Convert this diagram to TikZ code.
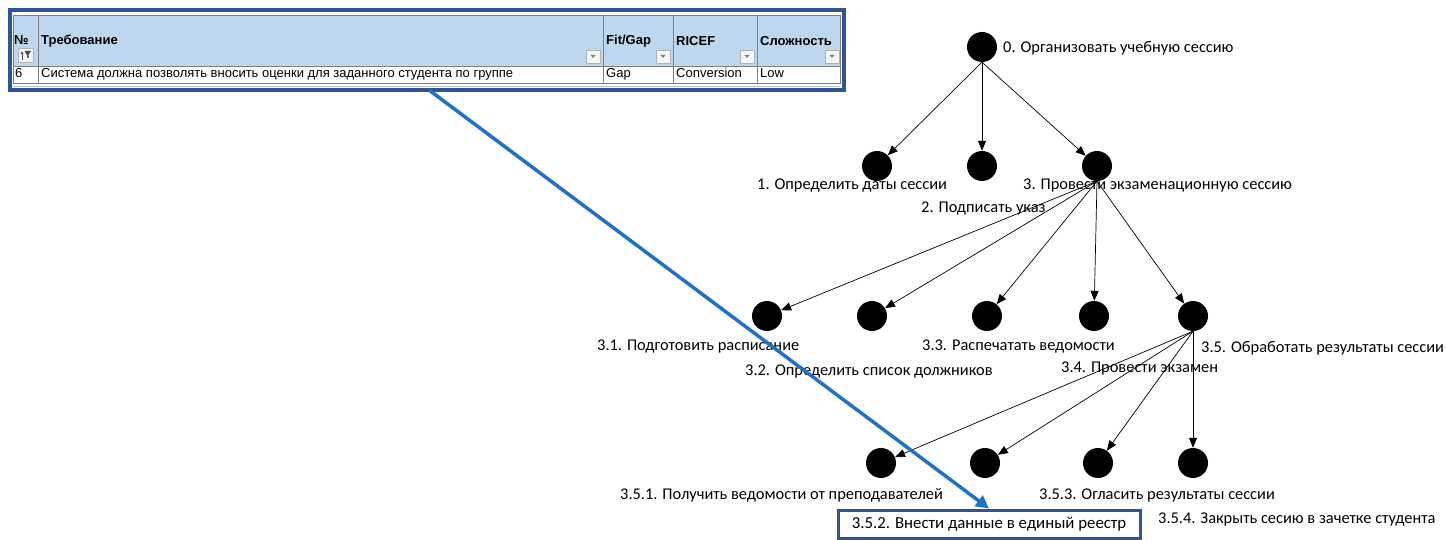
\documentclass[tikz,border=0pt]{standalone}
\usepackage{fontspec}
\setmainfont{Carlito}
\newfontfamily\tblfont{Liberation Sans}
\usetikzlibrary{arrows.meta}
\definecolor{frameblue}{HTML}{2F5597}
\definecolor{linkblue}{HTML}{1F72C4}
\definecolor{headfill}{HTML}{BDD7EE}
\definecolor{gridgray}{HTML}{7F7F7F}
\begin{document}
\begin{tikzpicture}[x=1pt,y=-1pt,
  dot/.style={circle,fill=black,minimum size=30pt,inner sep=0pt},
  lbl/.style={anchor=mid west,inner sep=0pt,font=\fontsize{16.4}{19}\selectfont},
  tree/.style={draw=black,line width=0.7pt,-{Triangle[length=10pt,width=8pt]}},
  hdr/.style={anchor=west,inner sep=0pt,font=\tblfont\bfseries\fontsize{13}{15}\selectfont},
  cell/.style={anchor=mid west,inner sep=0pt,font=\tblfont\fontsize{13}{15}\selectfont},
  ddbtn/.style={draw=gridgray!60,fill=gray!8,line width=0.4pt},
  link/.style={draw=linkblue,line width=3.5pt,-{Triangle[length=13pt,width=13pt]}},
  hilite/.style={draw=frameblue,line width=3pt,rectangle,inner sep=0pt,
    minimum width=302pt,minimum height=28pt,font=\fontsize{16.8}{19}\selectfont}]
\useasboundingbox (0,0) rectangle (1446,540);

% ---- requirements table ----
\fill[headfill] (13,15) rectangle (840,66);
\draw[gridgray,line width=0.6pt] (13,15) rectangle (840,83);
\draw[gridgray,line width=0.6pt] (13,66) -- (840,66);
\foreach \cx in {38,603,673,757} \draw[gridgray,line width=0.6pt] (\cx,15) -- (\cx,83);
\draw[gridgray!50,line width=0.6pt] (13,86) -- (840,86);

\node[hdr] (hno) at (14,40) {№};
\node[hdr] (hreq) at (41,41) {Требование};
\node[hdr] (hfit) at (606,41) {Fit/Gap};
\node[hdr] (hric) at (676,41) {RICEF};
\node[hdr] (hcx) at (760,41) {Сложность};

% sort/filter button in the first column
\draw[ddbtn] (18,48) rectangle (33,62);
\draw[black!70,line width=0.6pt] (22,60) -- (22,53);
\fill[black!70] (20.5,54) -- (23.5,54) -- (22,51.5) -- cycle;
\fill[black!70] (24.5,51) -- (31,51) -- (28.5,55) -- (28.5,58) -- (27,58) -- (27,55) -- cycle;

% drop-down buttons
\foreach \bx in {586,656,740,825}{
  \draw[ddbtn] (\bx,50) rectangle (\bx+14,63);
  \fill[gray] (\bx+4.5,55) -- (\bx+9.5,55) -- (\bx+7,58) -- cycle;
}

\node[cell] (dno) at (15,75) {6};
\node[cell] (dreq) at (41,75) {Система должна позволять вносить оценки для заданного студента по группе};
\node[cell] (dfit) at (606,75) {Gap};
\node[cell] (dric) at (676,75) {Conversion};
\node[cell] (dcx) at (760,75) {Low};

\draw[frameblue,line width=4pt] (10,10) rectangle (844,90);
\coordinate (src) at (429,90);

% ---- goal tree ----
\node[dot] (n0) at (982,47) {};
\node[dot] (n1) at (877,166) {};
\node[dot] (n2) at (982,166) {};
\node[dot] (n3) at (1097,166) {};
\node[dot] (n31) at (767,316) {};
\node[dot] (n32) at (872,316) {};
\node[dot] (n33) at (987,316) {};
\node[dot] (n34) at (1094,316) {};
\node[dot] (n35) at (1193,316) {};
\node[dot] (n351) at (881,463) {};
\node[dot] (n352) at (985,463) {};
\node[dot] (n353) at (1098,463) {};
\node[dot] (n354) at (1193,463) {};

\foreach \c in {n1,n2,n3} \draw[tree] (n0.south) -- (\c);
\foreach \c in {n31,n32,n33,n34,n35} \draw[tree] (n3.south) -- (\c);
\foreach \c in {n351,n352,n353,n354} \draw[tree] (n35.south) -- (\c);

\node[lbl] (l0) at (1003,50) {0. Организовать учебную сессию};
\node[lbl] (l1) at (757,187) {1. Определить даты сессии};
\node[lbl] (l2) at (921,210) {2. Подписать указ};
\node[lbl] (l3) at (1023,187) {3. Провести экзаменационную сессию};
\node[lbl] (l31) at (597,348) {3.1. Подготовить расписание};
\node[lbl] (l32) at (745,373) {3.2. Определить список должников};
\node[lbl] (l33) at (922,348) {3.3. Распечатать ведомости};
\node[lbl] (l34) at (1061,370) {3.4. Провести экзамен};
\node[lbl] (l35) at (1201,350) {3.5. Обработать результаты сессии};
\node[lbl] (l351) at (620,497) {3.5.1. Получить ведомости от преподавателей};
\node[lbl] (l353) at (1039,497) {3.5.3. Огласить результаты сессии};
\node[lbl] (l354) at (1158,521) {3.5.4. Закрыть сесию в зачетке студента};
\node[hilite] (box352) at (989,524) {3.5.2. Внести данные в единый реестр};

\draw[link] (src) -- (box352.north);
\end{tikzpicture}
\end{document}
